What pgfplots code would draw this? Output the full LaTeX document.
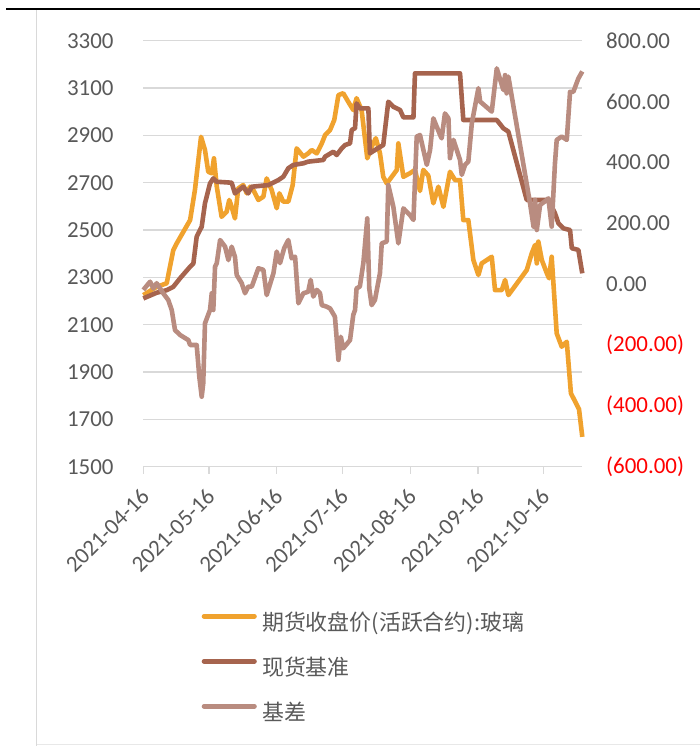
\documentclass[border=0pt]{standalone}
\usepackage{fontspec}
\usepackage{pgfplots}
\pgfplotsset{compat=1.18}
\setmainfont{Carlito}
\newfontfamily\cjk{Noto Sans CJK SC}
\definecolor{cfut}{HTML}{F0A22E}
\definecolor{cspot}{HTML}{A6644E}
\definecolor{cbasis}{HTML}{B98C80}
\definecolor{ctext}{HTML}{595959}
\definecolor{cgrid}{HTML}{D9D9D9}
\definecolor{cneg}{HTML}{FF0000}

\pgfplotstableread{
d v
0 2225
6.1 2260
10.7 2275
13.7 2415
15.3 2444
21.4 2542
23.6 2669
26.4 2894
28.2 2838
29.7 2746
31.3 2740
32.3 2803
33.6 2683
35.8 2556
38.1 2577
39.3 2627
40.4 2598
41.9 2549
43.4 2676
45.7 2690
47.3 2655
48.8 2683
50.3 2669
52.6 2627
54.9 2641
56.4 2718
58.7 2669
61.0 2592
62.2 2655
64.0 2620
66.3 2620
68.3 2690
70.1 2845
73.2 2810
75.4 2824
77.0 2838
79.3 2824
81.6 2866
83.1 2901
85.4 2923
87.3 2965
89.2 3070
91.4 3078
93.7 3042
96.0 3007
97.5 3057
99.8 3007
102.4 2803
104.4 2852
106.3 2888
108.2 2824
109.7 2725
111.3 2697
113.6 2725
115.9 2754
116.6 2866
118.9 2725
121.9 2740
124.2 2754
126.5 2665
128.0 2754
130.3 2730
132.6 2613
134.9 2683
137.2 2598
140.2 2746
142.5 2711
144.8 2711
146.3 2542
148.6 2542
150.9 2373
153.2 2310
154.7 2359
159.3 2387
160.8 2246
163.9 2246
165.4 2289
166.9 2225
175.3 2331
177.6 2402
179.1 2437
179.9 2359
180.6 2451
182.2 2373
184.5 2317
185.5 2296
186.7 2387
189.0 2063
191.3 2007
193.6 2028
195.5 1810
199.2 1743
200.7 1626
}\futures

\pgfplotstableread{
d v
0 2211
6.1 2235
10.7 2246
13.7 2260
16.8 2296
21.4 2345
22.9 2359
24.4 2472
26.7 2514
28.2 2613
30.5 2697
32.0 2718
33.6 2704
40.4 2700
41.9 2655
45.7 2683
48.0 2655
49.6 2683
57.2 2690
61.7 2711
64.0 2725
66.3 2761
68.6 2775
73.2 2782
75.4 2789
82.3 2796
83.1 2810
86.9 2831
88.4 2817
90.7 2845
92.2 2859
94.5 2866
95.3 2923
96.8 2930
97.5 3035
99.0 3014
102.9 3014
103.6 2824
105.9 2838
109.7 2859
110.5 2923
112.0 3042
114.3 3021
117.4 3007
118.9 2976
123.5 2976
124.2 3162
144.8 3162
146.3 2965
161.6 2965
164.6 2930
166.9 2916
175.3 2627
185.2 2627
188.2 2571
189.8 2528
192.1 2507
195.1 2500
195.9 2423
198.9 2416
200.7 2317
}\spot

\pgfplotstableread{
d v
0 -19
3.1 8
4.6 -14
6.1 3
9.1 -30
11.4 -52
13.0 -85
14.5 -151
16.8 -167
20.6 -184
21.4 -200
24.4 -200
25.6 -304
26.7 -370
27.4 -326
28.2 -129
30.5 -85
31.3 -30
32.0 -85
32.8 57
33.6 69
35.1 145
37.4 123
38.9 79
40.4 123
41.9 90
42.7 30
45.0 3
46.5 -30
48.0 -8
49.6 -8
52.6 52
54.9 47
56.4 -36
59.5 36
61.0 107
62.5 69
64.4 118
66.3 145
67.8 85
69.4 90
70.9 -63
73.2 -30
75.4 -25
76.5 14
77.7 -41
79.3 -19
80.8 -30
81.6 -69
83.8 -74
85.4 -80
87.6 -107
89.2 -249
90.3 -173
91.4 -211
94.5 -184
96.0 -101
96.8 -85
97.5 -14
99.0 -8
100.6 69
102.4 216
103.3 -14
104.4 -69
105.9 -52
108.2 36
109.0 134
111.3 140
112.0 326
114.3 255
116.6 134
118.9 249
121.9 227
123.5 211
125.0 485
126.5 490
129.6 392
131.1 441
132.6 545
135.7 490
136.4 479
137.9 561
139.5 545
140.2 414
141.8 474
144.8 408
145.6 359
147.1 392
148.6 403
150.2 529
153.2 644
154.0 600
159.3 567
161.6 709
164.6 638
165.4 687
166.1 627
166.9 682
176.8 266
178.4 189
179.1 277
179.9 178
181.4 260
184.5 277
185.2 282
186.7 189
188.2 397
189.0 474
191.3 485
193.6 474
195.1 632
196.6 632
198.9 676
200.7 699
}\basis

\begin{document}
\begin{tikzpicture}
\useasboundingbox (0,0) rectangle (700bp,746bp);
\draw[black, line width=2bp] (6bp,736.5bp) -- (700bp,736.5bp);
\draw[cgrid, line width=1.5bp] (36.7bp,735.5bp) -- (36.7bp,0bp);
\draw[cgrid!60, line width=1bp] (36.7bp,1.5bp) -- (700bp,1.5bp);

\begin{axis}[
  at={(143.3bp,279.3bp)}, anchor=south west,
  scale only axis, width=439bp, height=426bp,
  xmin=0, xmax=200.7, ymin=1500, ymax=3300,
  clip=false,
  axis lines*=left,
  x axis line style={cgrid, line width=1.3bp},
  y axis line style={draw=none},
  ymajorgrids, grid style={cgrid, line width=1.3bp},
  ytick={1500,1700,...,3300},
  xtick={0,30,61,91,122,153,183},
  xticklabels={2021-04-16,2021-05-16,2021-06-16,2021-07-16,2021-08-16,2021-09-16,2021-10-16},
  tick align=outside, major tick length=7bp,
  xtick style={cgrid, line width=1.3bp},
  ytick style={draw=none},
  tick label style={font=\fontsize{23}{27}\selectfont, text=ctext},
  yticklabel style={anchor=east, inner sep=0pt, xshift=-22.6bp},
  xticklabel style={yshift=-19bp, xshift=2bp, rotate=45, anchor=east, inner sep=0pt},
  /pgf/number format/.cd, 1000 sep={}, assume math mode=true,
]
\addplot[cfut, line width=4.6bp, line join=round] table[x=d, y=v] {\futures};
\addplot[cspot, line width=4.6bp, line join=round] table[x=d, y=v] {\spot};
\end{axis}

\begin{axis}[
  at={(143.3bp,279.3bp)}, anchor=south west,
  scale only axis, width=439bp, height=426bp,
  xmin=0, xmax=200.7, ymin=-600, ymax=800,
  clip=false,
  axis x line=none,
  axis y line*=right,
  y axis line style={draw=none},
  ytick={-600,-400,...,800},
  yticklabels={{\textcolor{cneg}{(600.00)}},{\textcolor{cneg}{(400.00)}},{\textcolor{cneg}{(200.00)}},0.00,200.00,400.00,600.00,800.00},
  ytick style={draw=none},
  tick label style={font=\fontsize{23}{27}\selectfont, text=ctext},
  yticklabel style={anchor=west, inner sep=0pt, xshift=23.7bp},
  legend style={at={(axis description cs:0.133,-0.342)}, anchor=north west,
    draw=none, fill=none, inner sep=0pt, outer sep=0pt, row sep=21bp,
    font=\cjk\fontsize{22}{26}\selectfont, text=ctext,
    nodes={inner sep=0pt, text height=18bp, text depth=6bp},
    /tikz/every odd column/.append style={column sep=5.3bp}},
  legend cell align=left,
  legend image code/.code={\draw[#1, line cap=round] (2.25bp,8bp) -- (52.75bp,8bp);},
]
\addlegendimage{cfut, line width=4.6bp}
\addlegendentry{期货收盘价(活跃合约):玻璃}
\addlegendimage{cspot, line width=4.6bp}
\addlegendentry{现货基准}
\addplot[cbasis, line width=4.6bp, line join=round] table[x=d, y=v] {\basis};
\addlegendentry{基差}
\end{axis}
\end{tikzpicture}
\end{document}
